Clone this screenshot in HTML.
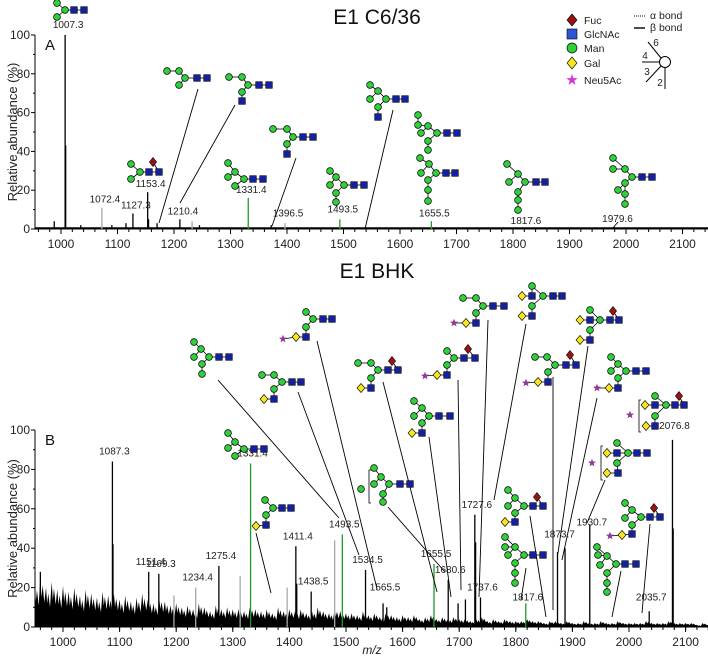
<!DOCTYPE html>
<html><head><meta charset="utf-8"><style>
html,body{margin:0;padding:0;background:#fff;}
svg{display:block;font-family:"Liberation Sans",Arial,sans-serif;}
</style></head><body>
<svg id="chart" width="708" height="659" viewBox="0 0 708 659" xmlns="http://www.w3.org/2000/svg"></svg>
<script>
// ===== Data =====
const topPeakMz   = [988,1007.3,1008.3,1035,1072.4,1090,1115,1127.3,1153.4,1155,1170,1210.4,1232,1245,1331.4,1372,1396.5,1493.5,1655.5,1979.6];
const topPeakVal  = [4,100,43,2,11,2,3,8,19,5,3,5,4,2,16,2,3,5,4,1];
const topPeakCol  = ['k','k','k','k','g','k','k','k','k','k','k','k','g','k','G','k','g','G','G','k'];
const topLabelMz  = [1007.3,1072.4,1127.3,1153.4,1210.4,1331.4,1396.5,1493.5,1655.5,1817.6,1979.6];
const topLabelTxt = ['1007.3','1072.4','1127.3','1153.4','1210.4','1331.4','1396.5','1493.5','1655.5','1817.6','1979.6'];
const topLabelPct = [102,12,9,20,6,17,5,7,5,1,2];

const botNoise = [22,25,20,23,19,21,
 18,20,16,19,17,15,18,16,17,14,
 16,13,15,17,14,12,15,13,11,12,
 10,11,9,12,10,8,11,9,10,9,
 9,8,10,9,8,9,7,10,8,9,
 8,9,7,8,10,8,7,9,8,7,
 7,6,8,6,7,5,7,6,5,6,
 5,6,4,5,6,4,5,4,5,4,
 4,3,4,5,3,4,3,4,3,3,
 3,4,3,3,2,3,3,2,3,2,
 2,3,2,2,3,2,2,3,2,2,
 2,2,3,2,2,2,3,2,2,2,
 2,1,2,1,1];
const botPeakMz  = [960,1087.3,1088.3,1151.4,1169.3,1196,1234.4,1275.4,1313,1331.4,1396,1411.4,1413,1438.5,1480,1493.5,1534.5,1565.5,1572,1655.5,1680.6,1698,1711,1727.6,1729,1737.6,1817.6,1873.7,1887,1930.7,2035.7,2076.8,2078];
const botPeakVal = [28,84,42,28,27,16,20,31,26,83,20,41,22,18,44,47,29,12,10,32,24,12,14,57,43,15,12,38,40,52,8,95,50];
const botPeakCol = ['k','k','k','k','k','g','g','k','g','G','g','k','k','k','g','G','k','k','k','G','k','k','k','k','k','k','G','k','k','k','k','k','k'];
const botLabelMz  = [1087.3,1151.4,1169.3,1234.4,1275.4,1331.4,1411.4,1438.5,1493.5,1534.5,1565.5,1655.5,1680.6,1727.6,1737.6,1817.6,1873.7,1930.7,2035.7,2076.8];
const botLabelTxt = ['1087.3','1151.4','1169.3','1234.4','1275.4','1331.4','1411.4','1438.5','1493.5','1534.5','1565.5','1655.5','1680.6','1727.6','1737.6','1817.6','1873.7','1930.7','2035.7','2076.8'];
const botLabelPct = [86,30,29,22,33,85,43,20,49,31,17,34,26,59,17,12,44,50,12,99];
const yTicks = [0,20,40,60,80,100];
const xTicks = [1000,1100,1200,1300,1400,1500,1600,1700,1800,1900,2000,2100];

// ===== Axes =====
const xT = mz => 61 + (mz-1000)*0.565;
const yT = p => 229 - p*1.94;
const xB = mz => 63 + (mz-1000)*0.566;
const yB = p => 627 - p*1.97;

const NS='http://www.w3.org/2000/svg';
const svg=document.getElementById('chart');
function el(tag,attrs,parent){const e=document.createElementNS(NS,tag);for(const k in attrs)e.setAttribute(k,attrs[k]);(parent||svg).appendChild(e);return e;}
function txt(x,y,s,size,anchor,parent,extra){const t=el('text',Object.assign({x:x,y:y,'font-size':size,'text-anchor':anchor||'middle',fill:'#222'},extra||{}),parent);t.textContent=s;return t;}
const COL={k:'#000',g:'#a8a8a8',G:'#1f9a2a'};

function panel(name,xf,yf,y0,titleTxt,titleY,letter,letterY){
  const g=el('g',{});
  
  
  const ti=txt(377,titleY,titleTxt,21,'middle',g,{fill:'#111'});
  
  
  const lt=txt(45,letterY,letter,15,'start',g,{fill:'#111'});
  
  
  const ya=el('g',{},g);
  
  
  el('line',{x1:35,y1:yf(100),x2:35,y2:y0,stroke:'#000','stroke-width':1},ya);
  yTicks.forEach(v=>{
    el('line',{x1:31,y1:yf(v),x2:35,y2:yf(v),stroke:'#000'},ya);
    if(v<100) el('line',{x1:33,y1:yf(v+10),x2:35,y2:yf(v+10),stroke:'#000'},ya);
    txt(30,yf(v)+4,String(v),12,'end',ya);
  });
  const yt=txt(0,0,'Relative abundance (%)',13,'middle',ya,{transform:`translate(17,${(yf(100)+y0)/2}) rotate(-90)`});
  
  
  const xa=el('g',{},g);
  
  
  el('line',{x1:35,y1:y0,x2:708,y2:y0,stroke:'#000'},xa);
  for(let m=960;m<=2150;m+=20){el('line',{x1:xf(m),y1:y0,x2:xf(m),y2:y0+3,stroke:'#000'},xa);}
  xTicks.forEach(v=>{el('line',{x1:xf(v),y1:y0,x2:xf(v),y2:y0+5,stroke:'#000'},xa);txt(xf(v),y0+19,String(v),12,'middle',xa);});
  return g;
}

const gTop=panel('panel-a-c636',xT,yT,229,'E1 C6/36',24,'A',50);
const gBot=panel('panel-b-bhk',xB,yB,627,'E1 BHK',278,'B',445);
const xl=txt(372,654,'m/z',12,'middle',gBot,{'font-style':'italic'});



el('line',{x1:35,y1:228,x2:708,y2:228,stroke:'#000','stroke-width':1.5},gTop);
topPeakMz.forEach((m,i)=>{
  const l=el('line',{x1:xT(m),y1:229,x2:xT(m),y2:yT(topPeakVal[i]),stroke:COL[topPeakCol[i]],'stroke-width':1.3},gTop);
  
  
});
topLabelMz.forEach((m,i)=>{const t=txt(xT(m)+3,yT(topLabelPct[i])-3,topLabelTxt[i],10,'middle',gTop);
  
  });

let d='M'+xB(950)+','+yB(0);
botNoise.forEach((v,i)=>{const m=950+i*10;d+=' L'+xB(m)+','+yB(v)+' L'+xB(m+2)+','+yB(v*0.6)+' L'+xB(m+4)+','+yB(v*0.85)+' L'+xB(m+7)+','+yB(v*0.5);});
d+=' L'+xB(2150)+','+yB(0)+' Z';
const na=el('path',{d:d,fill:'#000'},gBot);


botPeakMz.forEach((m,i)=>{
  const l=el('line',{x1:xB(m),y1:627,x2:xB(m),y2:yB(botPeakVal[i]),stroke:COL[botPeakCol[i]],'stroke-width':1.3},gBot);
  
  
});
botLabelMz.forEach((m,i)=>{const t=txt(xB(m)+2,yB(botLabelPct[i])-3,botLabelTxt[i],10,'middle',gBot);
  
  });

function sym(t,x,y,p){
  if(t==='c')return el('circle',{cx:x,cy:y,r:3.4,fill:'#2fd13a',stroke:'#000','stroke-width':0.7},p);
  if(t==='s')return el('rect',{x:x-3.3,y:y-3.3,width:6.6,height:6.6,fill:'#1420a0',stroke:'#000','stroke-width':0.6},p);
  if(t==='g')return el('polygon',{points:`${x},${y-4.5} ${x+4},${y} ${x},${y+4.5} ${x-4},${y}`,fill:'#f5e61e',stroke:'#000','stroke-width':0.6},p);
  if(t==='f')return el('polygon',{points:`${x},${y-4.5} ${x+3.6},${y} ${x},${y+4.5} ${x-3.6},${y}`,fill:'#9a1212',stroke:'#000','stroke-width':0.6},p);
  if(t==='a'){let pts='';for(let k=0;k<10;k++){const r=k%2?1.8:4.2,a=-Math.PI/2+k*Math.PI/5;pts+=(x+r*Math.cos(a)).toFixed(1)+','+(y+r*Math.sin(a)).toFixed(1)+' ';}return el('polygon',{points:pts,fill:'#8e3a96'},p);}
}
function glycan(name,nodes,leader){
  const g=el('g',{});
  
  
  nodes.forEach(n=>{if(n[3]>=0){const p=nodes[n[3]];el('line',{x1:n[1],y1:n[2],x2:p[1],y2:p[2],stroke:'#000','stroke-width':0.8},g);}});
  nodes.forEach(n=>sym(n[0],n[1],n[2],g));
  if(leader)el('line',{x1:leader[0],y1:leader[1],x2:leader[2],y2:leader[3],stroke:'#000','stroke-width':0.9},g);
  return g;
}
function bracket(x,y1,y2){el('path',{d:`M${x+2},${y1} L${x},${y1} L${x},${y2} L${x+2},${y2}`,fill:'none',stroke:'#000','stroke-width':0.8});}

glycan('glycan-1007',[['s',84,10,-1],['s',74,10,0],['c',65,10,1],['c',57,3,2],['c',57,17,2]]);
glycan('glycan-1153',[['s',159,172,-1],['s',149,172,0],['c',140,172,1],['c',131,164,2],['c',131,179,2],['f',153,162,0]]);
glycan('glycan-a3',[['s',207,78,-1],['s',197,78,0],['c',185,78,1],['c',179,71,2],['c',167,71,3],['c',179,85,2]],[198,89,159,223]);
glycan('glycan-a4',[['s',269,85,-1],['s',259,85,0],['c',248,85,1],['c',242,77,2],['c',229,77,3],['c',242,92,2],['s',242,101,5]],[235,105,180,203]);
glycan('glycan-1331-a',[['s',263,179,-1],['s',253,179,0],['c',244,179,1],['c',235,172,2],['c',228,163,3],['c',228,177,3],['c',235,186,2]]);
glycan('glycan-a6',[['s',313,137,-1],['s',303,137,0],['c',293,137,1],['c',287,129,2],['c',273,129,3],['c',287,144,2],['s',287,154,5]],[296,158,272,226]);
glycan('glycan-1493-a',[['s',364,185,-1],['s',354,185,0],['c',344,185,1],['c',336,177,2],['c',330,171,3],['c',330,185,3],['c',336,193,2],['c',336,202,6]]);
glycan('glycan-a8',[['s',405,99,-1],['s',396,99,0],['c',386,99,1],['c',378,91,2],['c',370,85,3],['c',370,99,3],['c',378,107,2],['s',378,117,6]],[393,110,365,229]);
glycan('glycan-1655-a-upper',[['s',457,133,-1],['s',447,133,0],['c',437,133,1],['c',428,126,2],['c',418,125,3],['c',418,115,4],['c',421,133,3],['c',428,141,2],['c',428,150,7]]);
glycan('glycan-1655-a-lower',[['s',455,173,-1],['s',446,173,0],['c',436,173,1],['c',429,164,2],['c',420,158,3],['c',421,173,3],['c',428,180,2],['c',428,190,6],['c',428,201,7]]);
glycan('glycan-1817-a',[['s',545,182,-1],['s',536,182,0],['c',525,182,1],['c',518,174,2],['c',507,164,3],['c',509,182,3],['c',518,192,2],['c',518,200,6],['c',518,210,7]]);
glycan('glycan-1979-a',[['s',652,177,-1],['s',642,177,0],['c',632,177,1],['c',625,169,2],['c',613,158,3],['c',613,169,3],['c',625,183,2],['c',618,190,6],['c',625,194,6],['c',625,204,8]],[618,222,612,229]);

glycan('glycan-b1',[['s',229,357,-1],['s',219,357,0],['c',209,357,1],['c',201,349,2],['c',194,342,3],['c',194,357,3],['c',202,364,2],['c',202,374,6]],[218,380,339,518]);
glycan('glycan-b2',[['s',332,319,-1],['s',323,319,0],['c',313,319,1],['c',306,312,2],['c',306,327,2],['s',306,337,4],['g',296,337,5],['a',283,339,6]],[317,341,377,589]);
glycan('glycan-b3',[['s',301,382,-1],['s',292,382,0],['c',282,382,1],['c',274,375,2],['c',262,375,3],['c',274,389,2],['s',274,399,5],['g',264,399,6]],[298,392,359,555]);
glycan('glycan-b4',[['s',398,370,-1],['s',388,370,0],['c',378,370,1],['c',371,363,2],['c',358,363,3],['c',371,378,2],['s',371,388,5],['g',361,388,6],['f',392,361,0]],[383,382,437,592]);
glycan('glycan-b5',[['s',504,306,-1],['s',493,306,0],['c',483,306,1],['c',476,298,2],['c',463,298,3],['c',476,313,2],['s',476,323,5],['g',466,323,6],['a',454,323,7]],[488,320,479,597]);
glycan('glycan-b6',[['s',562,296,-1],['s',553,296,0],['c',543,296,1],['c',532,286,2],['s',532,296,3],['g',522,296,4],['c',532,306,2],['s',532,316,6],['g',522,316,7]],[526,324,494,500]);
glycan('glycan-b7',[['s',475,358,-1],['s',464,358,0],['c',454,358,1],['c',447,351,2],['c',447,365,2],['s',447,375,4],['g',437,375,5],['a',425,376,6],['f',468,349,0]],[458,380,461,590]);
glycan('glycan-b8',[['s',450,416,-1],['s',439,416,0],['c',429,416,1],['c',422,408,2],['c',414,401,3],['c',414,416,3],['c',422,423,2],['s',422,433,6],['g',412,433,7]],[429,437,451,597]);
glycan('glycan-b9',[['s',619,320,-1],['s',610,320,0],['c',600,320,1],['c',590,310,2],['s',590,320,2],['g',580,320,4],['c',590,330,2],['s',590,340,6],['g',580,340,7],['f',613,311,0]],[588,346,558,553]);
glycan('glycan-b10',[['s',576,365,-1],['s',566,365,0],['c',555,365,1],['c',547,357,2],['c',535,357,3],['c',548,372,2],['s',548,382,5],['g',538,382,6],['a',526,383,7],['f',570,355,0]],[553,377,553,610]);
glycan('glycan-b11',[['s',646,371,-1],['s',636,371,0],['c',626,371,1],['c',618,364,2],['c',611,357,3],['c',611,371,3],['c',618,378,2],['s',618,388,6],['g',609,388,7],['a',597,388,8]],[597,398,562,560]);
glycan('glycan-b12-2076',[['s',684,405,-1],['s',675,405,0],['c',666,405,1],['c',655,396,2],['s',655,405,2],['g',645,405,4],['c',655,416,2],['s',655,426,6],['g',646,426,7],['f',679,396,0]]);
bracket(639,400,432); sym('a',630,415);
glycan('glycan-b13-1930',[['s',647,453,-1],['s',637,453,0],['c',628,453,1],['c',617,443,2],['s',617,453,2],['g',607,453,4],['c',617,463,2],['s',618,473,6],['g',607,473,7]],[605,480,587,523]);
bracket(601,446,480); sym('a',592,463);
glycan('glycan-b14-1331',[['s',264,449,-1],['s',254,449,0],['c',244,449,1],['c',235,442,2],['c',228,433,3],['c',228,448,3],['c',235,456,2]]);
glycan('glycan-b15',[['s',291,508,-1],['s',282,508,0],['c',273,508,1],['c',265,500,2],['c',266,515,2],['s',266,525,4],['g',256,526,5]],[256,533,271,593]);
glycan('glycan-b16-1655',[['s',410,484,-1],['s',400,484,0],['c',389,484,1],['c',381,477,2],['c',374,468,3],['c',374,484,3],['c',383,494,2],['c',383,502,6]],[388,507,445,572]);
bracket(369,470,503); sym('c',361,489);
glycan('glycan-b17',[['s',543,506,-1],['s',533,506,0],['c',524,506,1],['c',515,498,2],['c',508,490,3],['c',508,506,3],['c',515,513,2],['s',515,522,6],['g',505,522,7],['f',537,497,0]],[530,516,546,617]);
glycan('glycan-b18-1817',[['s',543,555,-1],['s',533,555,0],['c',524,555,1],['c',515,547,2],['c',505,537,3],['c',505,547,3],['c',508,555,3],['c',515,563,2],['c',515,573,7],['c',515,583,8]],[526,568,521,600]);
glycan('glycan-b19',[['s',660,517,-1],['s',650,517,0],['c',641,517,1],['c',632,510,2],['c',625,503,3],['c',625,518,3],['c',632,525,2],['s',632,534,6],['g',622,535,7],['a',610,536,8],['f',654,508,0]],[650,524,642,613]);
glycan('glycan-b20',[['s',636,564,-1],['s',625,564,0],['c',616,564,1],['c',607,556,2],['c',597,547,3],['c',598,555,3],['c',600,565,3],['c',607,573,2],['c',607,583,7],['c',607,592,8]],[621,571,612,617]);

const lg=el('g',{});


[['f','Fuc',20],['s','GlcNAc',34],['c','Man',48],['g','Gal',63],['a','Neu5Ac',80]].forEach(r=>{
  const e=el('g',{},lg);
  
  
  if(r[0]==='a'){let pts='';for(let k=0;k<10;k++){const rr=k%2?2.4:6,a=-Math.PI/2+k*Math.PI/5;pts+=(572+rr*Math.cos(a)).toFixed(1)+','+(r[2]+rr*Math.sin(a)).toFixed(1)+' ';}el('polygon',{points:pts,fill:'#d23ad2'},e);}
  else if(r[0]==='s')el('rect',{x:567,y:r[2]-5,width:10,height:10,fill:'#2f55d6',stroke:'#000','stroke-width':0.6},e);
  else if(r[0]==='c')el('circle',{cx:572,cy:r[2],r:5,fill:'#2fd13a',stroke:'#000','stroke-width':0.7},e);
  else el('polygon',{points:`572,${r[2]-6} 577,${r[2]} 572,${r[2]+6} 567,${r[2]}`,fill:r[0]==='f'?'#9a1212':'#f5e61e',stroke:'#000','stroke-width':0.6},e);
  txt(584,r[2]+4,r[1],10.5,'start',e);
});
el('line',{x1:634,y1:16,x2:645,y2:16,stroke:'#000','stroke-dasharray':'1,1'},lg);
txt(650,19,'α bond',10.5,'start',lg);
el('line',{x1:634,y1:28,x2:645,y2:28,stroke:'#000','stroke-width':1.4},lg);
txt(650,31,'β bond',10.5,'start',lg);
el('circle',{cx:665,cy:62,r:5.5,fill:'#fff',stroke:'#000'},lg);
el('line',{x1:648,y1:42,x2:661,y2:58,stroke:'#000'},lg);
el('line',{x1:642,y1:62,x2:659,y2:62,stroke:'#000'},lg);
el('line',{x1:646,y1:82,x2:661,y2:66,stroke:'#000'},lg);
el('line',{x1:665,y1:67,x2:665,y2:89,stroke:'#000'},lg);
txt(656,46,'6',10,'middle',lg);txt(645,59,'4',10,'middle',lg);txt(647,75,'3',10,'middle',lg);txt(660,86,'2',10,'middle',lg);
</script>
</body></html>
